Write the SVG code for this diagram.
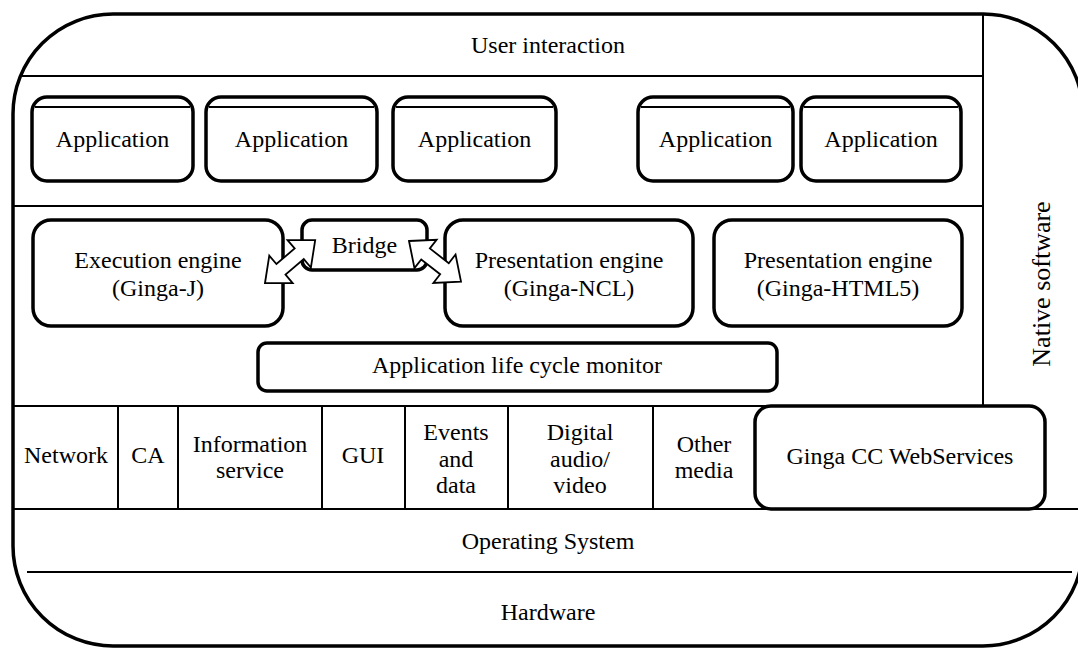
<svg xmlns="http://www.w3.org/2000/svg" width="1078" height="650" viewBox="0 0 1078 650">
<style>
text{font-family:'Liberation Serif','Times New Roman','DejaVu Serif',serif;font-size:24px;fill:#000;text-anchor:middle}
.box{fill:#fff;stroke:#000;stroke-width:3.5}
.thin{stroke:#000;stroke-width:2;fill:none}
.outer{fill:#fff;stroke:#000;stroke-width:3.5}
.arrow{fill:#fff;stroke:#000;stroke-width:1.8;stroke-linejoin:miter}
</style>
<defs>
<polygon id="dbl" points="0,0 21,-18 21,-7 45,-7 45,-18 66,0 45,18 45,7 21,7 21,18"/>
</defs>
<rect width="1078" height="650" fill="#fff"/>
<g id="frame">
<rect class="outer" x="13" y="14" width="1070" height="632" rx="100" ry="100"/>
<line class="thin" x1="20" y1="76" x2="983" y2="76"/>
<line class="thin" x1="13" y1="206" x2="983" y2="206"/>
<line class="thin" x1="13" y1="406" x2="983" y2="406"/>
<line class="thin" x1="983" y1="14" x2="983" y2="406"/>
<line class="thin" x1="13" y1="509" x2="1083" y2="509"/>
<line class="thin" x1="27" y1="572" x2="1072" y2="572"/>
</g>
<g font-family="Liberation Serif, Times New Roman, DejaVu Serif, serif">
<g id="user-interaction"><text x="548" y="53">User interaction</text></g>
<g id="native-software"><text transform="translate(1050,284) rotate(-90)" style="font-size:26px">Native software</text></g>
<g id="app1"><rect class="box" x="32" y="97" width="161" height="84" rx="15"/><line class="thin" x1="35" y1="107" x2="190" y2="107"/><text x="112.5" y="147">Application</text></g>
<g id="app2"><rect class="box" x="206" y="97" width="171" height="84" rx="15"/><line class="thin" x1="209" y1="107" x2="374" y2="107"/><text x="291.5" y="147">Application</text></g>
<g id="app3"><rect class="box" x="393" y="97" width="163" height="84" rx="15"/><line class="thin" x1="396" y1="107" x2="553" y2="107"/><text x="474.5" y="147">Application</text></g>
<g id="app4"><rect class="box" x="638" y="97" width="155" height="84" rx="15"/><line class="thin" x1="641" y1="107" x2="790" y2="107"/><text x="715.5" y="147">Application</text></g>
<g id="app5"><rect class="box" x="801" y="97" width="160" height="84" rx="15"/><line class="thin" x1="804" y1="107" x2="958" y2="107"/><text x="881" y="147">Application</text></g>
<g id="exec-engine"><rect class="box" x="33" y="220" width="250" height="106" rx="18"/><text x="158" y="268">Execution engine</text><text x="158" y="296">(Ginga-J)</text></g>
<g id="bridge"><rect class="box" x="302" y="220" width="125" height="50" rx="10"/><text x="364.5" y="253">Bridge</text></g>
<g id="pres-ncl"><rect class="box" x="445" y="220" width="248" height="106" rx="18"/><text x="569" y="268">Presentation engine</text><text x="569" y="296">(Ginga-NCL)</text></g>
<g id="pres-html5"><rect class="box" x="714" y="220" width="248" height="106" rx="18"/><text x="838" y="268">Presentation engine</text><text x="838" y="296">(Ginga-HTML5)</text></g>
<g id="lifecycle"><rect class="box" x="258" y="343" width="519" height="48" rx="9"/><text x="517" y="373">Application life cycle monitor</text></g>
<g id="network"><text x="66" y="463">Network</text></g>
<g id="ca"><line class="thin" x1="118" y1="406" x2="118" y2="509"/><text x="148" y="463">CA</text></g>
<g id="info-service"><line class="thin" x1="178" y1="406" x2="178" y2="509"/><text x="250" y="452">Information</text><text x="250" y="478">service</text></g>
<g id="gui"><line class="thin" x1="322" y1="406" x2="322" y2="509"/><text x="363" y="463">GUI</text></g>
<g id="events"><line class="thin" x1="405" y1="406" x2="405" y2="509"/><text x="456" y="440">Events</text><text x="456" y="467">and</text><text x="456" y="493">data</text></g>
<g id="digital-av"><line class="thin" x1="508" y1="406" x2="508" y2="509"/><text x="580" y="440">Digital</text><text x="580" y="467">audio/</text><text x="580" y="493">video</text></g>
<g id="other-media"><line class="thin" x1="653" y1="406" x2="653" y2="509"/><text x="704" y="452">Other</text><text x="704" y="478">media</text></g>
<g id="ginga-cc"><rect class="box" x="755" y="406" width="290" height="103" rx="16"/><text x="900" y="464">Ginga CC WebServices</text></g>
<g id="os"><text x="548" y="549">Operating System</text></g>
<g id="hardware"><text x="548" y="620">Hardware</text></g>
</g>
<g id="connectors">
<use href="#dbl" class="arrow" transform="translate(265,283) rotate(-40.5)"/>
<use href="#dbl" class="arrow" transform="translate(409,241) rotate(38)"/>
</g>
</svg>
